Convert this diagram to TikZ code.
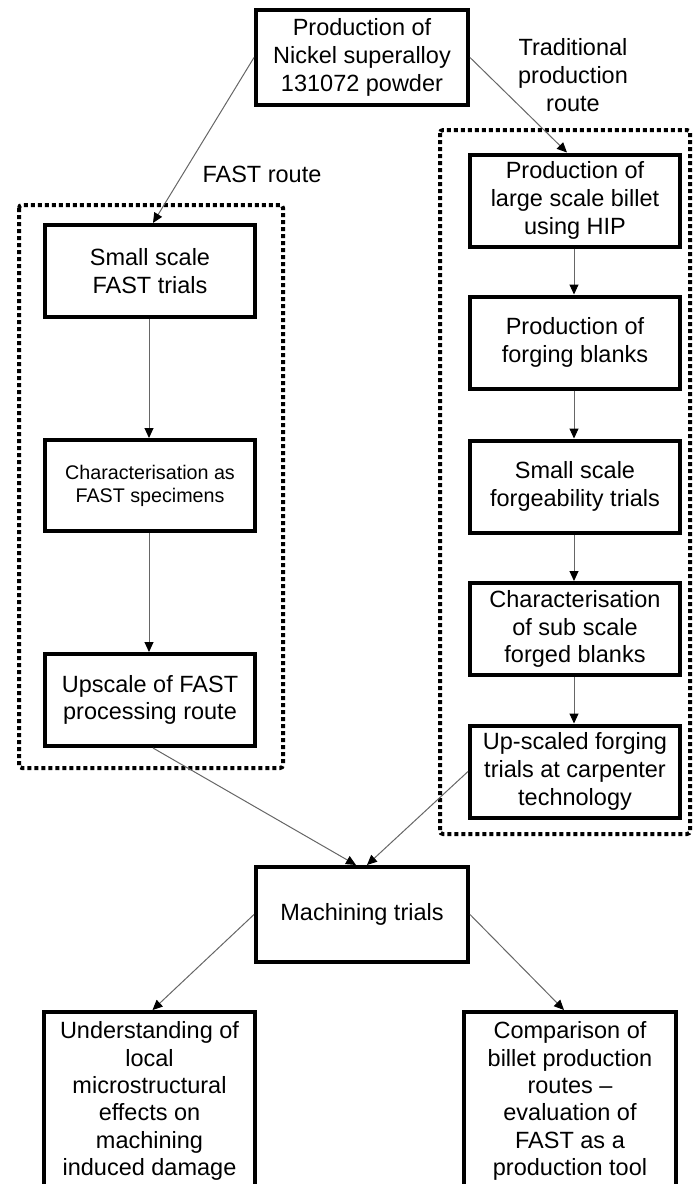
\documentclass[tikz,border=0pt]{standalone}
\usepackage{fontspec}
\setmainfont{Liberation Sans}
\usetikzlibrary{arrows.meta}
\tikzset{
  box/.style={draw=black, line width=4pt, minimum width=210pt, minimum height=92pt,
    align=center, inner sep=2pt, font=\fontsize{23.5}{27.7}\selectfont},
  txt/.style={align=center, inner sep=0pt, font=\fontsize{23.5}{27.7}\selectfont},
  conn/.style={draw=black!60, line width=1pt, -{Triangle[length=10pt,width=9pt,color=black]}},
  frame/.style={draw=black, line width=4pt},
  dotbox/.style={draw=black, line width=4pt, dash pattern=on 4pt off 3pt, rounded corners=3pt}
}
\begin{document}
\begin{tikzpicture}[x=1pt,y=-1pt]
\useasboundingbox (0,0) rectangle (696,1184);

% dotted route frames
\draw[dotbox] (19,205) rectangle (283,768);
\draw[dotbox] (440,130) rectangle (690,834);

% top
\node[box, minimum width=212pt, minimum height=95pt] (top) at (362,57.5)
  {Production of\\Nickel superalloy\\131072 powder};
\node[txt] (trad) at (573,75) {Traditional\\production\\route};
\node[txt] (fastlbl) at (262,174) {FAST route};

% left column
\node[box] (small) at (150,271) {Small scale\\FAST trials};
\node[box, minimum height=91pt, font=\fontsize{19.7}{23}\selectfont] (charf) at (150,485.5)
  {Characterisation as\\FAST specimens};
\node[box] (upf) at (150,700) {Upscale of FAST\\processing route};

% right column
\node[box] (hip) at (575,200.5) {Production of\\large scale billet\\using HIP};
\node[box] (blanks) at (575,342.5) {Production of\\forging blanks};
\node[box] (forge) at (575,486.5) {Small scale\\forgeability trials};
\node[box] (charsub) at (575,629) {Characterisation\\of sub scale\\forged blanks};
\node[box] (ups) at (575,771.5) {Up-scaled forging\\trials at carpenter\\technology};

% machining
\node[box, minimum width=212pt, minimum height=95pt] (mach) at (362,914.5) {Machining trials};

% bottom boxes (cut by the page edge)
\draw[frame] (44,1250) -- (44,1012) -- (255,1012) -- (255,1250);
\draw[frame] (464,1250) -- (464,1012) -- (676,1012) -- (676,1250);
\node[txt, anchor=north, inner ysep=11.5pt, font=\fontsize{23.5}{27.4}\selectfont] (bl) at (149.5,1010)
  {Understanding of\\local\\microstructural\\effects on\\machining\\induced damage};
\node[txt, anchor=north, inner ysep=11.5pt, font=\fontsize{23.5}{27.4}\selectfont] (br) at (570,1010)
  {Comparison of\\billet production\\routes --\\evaluation of\\FAST as a\\production tool};

% connectors
\draw[conn] (top.west) -- ([xshift=3pt]small.north);
\draw[conn] (top.east) -- ([xshift=-8pt]hip.north);
\draw[conn] ([xshift=-1pt]small.south) -- ([xshift=-1pt]charf.north);
\draw[conn] ([xshift=-1pt]charf.south) -- ([xshift=-1pt]upf.north);
\draw[conn] ([xshift=-1pt]hip.south) -- ([xshift=-1pt]blanks.north);
\draw[conn] ([xshift=-1pt]blanks.south) -- ([xshift=-1pt]forge.north);
\draw[conn] ([xshift=-1pt]forge.south) -- ([xshift=-1pt]charsub.north);
\draw[conn] ([xshift=-1pt]charsub.south) -- ([xshift=-1pt]ups.north);
\draw[conn] ([xshift=3pt]upf.south) -- ([xshift=-6pt]mach.north);
\draw[conn] (ups.west) -- ([xshift=5pt]mach.north);
\draw[conn] (mach.west) -- ([xshift=3pt]bl.north);
\draw[conn] (mach.east) -- ([xshift=-6pt]br.north);
\end{tikzpicture}
\end{document}
